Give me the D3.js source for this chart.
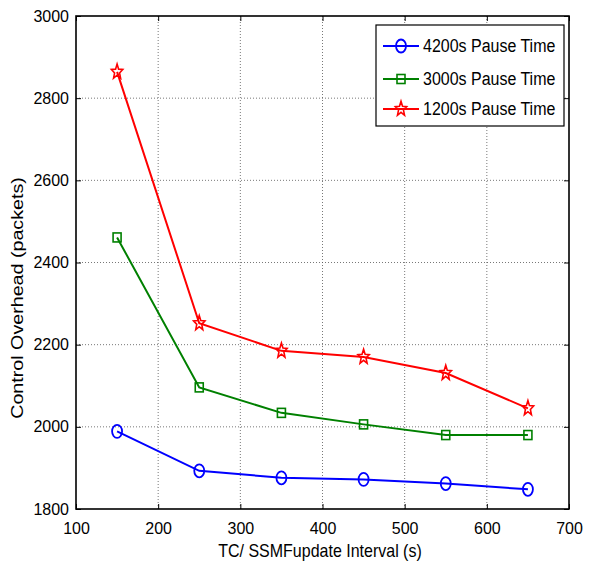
<!DOCTYPE html>
<html>
<head>
<meta charset="utf-8">
<script src="https://cdn.jsdelivr.net/npm/d3@7"></script>
<style>
  html, body { margin: 0; padding: 0; background: #fff; }
  svg text { font-family: "Liberation Sans", Arial, sans-serif; fill: #000; }
</style>
</head>
<body>
<svg id="chart" width="592" height="571"></svg>
<script>
// Control overhead vs. TC/SSMF update interval, for three pause times
const intervals = [150, 250, 350, 450, 550, 650];
const pause4200 = [1989, 1893, 1876, 1872, 1862, 1848];
const pause3000 = [2461, 2096, 2034, 2006, 1980, 1980];
const pause1200 = [2864, 2252, 2185, 2170, 2131, 2045];
const xTicks = [100, 200, 300, 400, 500, 600, 700];
const yTicks = [1800, 2000, 2200, 2400, 2600, 2800, 3000];
const seriesNames = ["4200s Pause Time", "3000s Pause Time", "1200s Pause Time"];
const seriesColors = ["#0000ff", "#008000", "#ff0000"];
const seriesMarkers = ["circle", "square", "star"];

const series = [pause4200, pause3000, pause1200].map((vals, i) => ({
  name: seriesNames[i], color: seriesColors[i], marker: seriesMarkers[i],
  points: vals.map((v, j) => ({ x: intervals[j], y: v }))
}));

const svg = d3.select("#chart");
const plotL = 76, plotR = 569, plotT = 16, plotB = 509;

const x = d3.scaleLinear().domain([100, 700]).range([plotL, plotR]);
const y = d3.scaleLinear().domain([1800, 3000]).range([plotB, plotT]);

// grid
const grid = svg.append("g");
grid.selectAll(".gx").data(xTicks.slice(1, -1)).join("line")
  .attr("x1", d => x(d)).attr("x2", d => x(d))
  .attr("y1", plotT).attr("y2", plotB)
  .attr("stroke", "#555").attr("stroke-width", 0.8).attr("stroke-dasharray", "1,2");
grid.selectAll(".gy").data(yTicks.slice(1, -1)).join("line")
  .attr("x1", plotL).attr("x2", plotR)
  .attr("y1", d => y(d)).attr("y2", d => y(d))
  .attr("stroke", "#555").attr("stroke-width", 0.8).attr("stroke-dasharray", "1,2");

// axes (ticks pointing inward, mirrored on top and right)
const axisFont = g => g.selectAll("text").style("font-family", "Liberation Sans, Arial, sans-serif").style("font-size", "16px").attr("fill", "#000");
svg.append("g").attr("transform", `translate(0,${plotB})`)
  .call(d3.axisBottom(x).tickValues(xTicks).tickSize(-5).tickPadding(14).tickFormat(d3.format("d")))
  .call(g => g.select(".domain").remove())
  .call(g => g.selectAll("line").attr("stroke", "#000"))
  .call(axisFont);
svg.append("g").attr("transform", `translate(${plotL},0)`)
  .call(d3.axisLeft(y).tickValues(yTicks).tickSize(-5).tickPadding(7).tickFormat(d3.format("d")))
  .call(g => g.select(".domain").remove())
  .call(g => g.selectAll("line").attr("stroke", "#000"))
  .call(axisFont);
svg.append("g").attr("transform", `translate(0,${plotT})`)
  .call(d3.axisTop(x).tickValues(xTicks).tickSize(-5).tickFormat(""))
  .call(g => g.select(".domain").remove())
  .call(g => g.selectAll("line").attr("stroke", "#000"));
svg.append("g").attr("transform", `translate(${plotR},0)`)
  .call(d3.axisRight(y).tickValues(yTicks).tickSize(-5).tickFormat(""))
  .call(g => g.select(".domain").remove())
  .call(g => g.selectAll("line").attr("stroke", "#000"));

svg.append("rect").attr("x", plotL).attr("y", plotT)
  .attr("width", plotR - plotL).attr("height", plotB - plotT)
  .attr("fill", "none").attr("stroke", "#000").attr("stroke-width", 1.6);

// axis titles (slightly tall lettering)
svg.append("text").attr("transform", `translate(320,557) scale(1,1.15)`)
  .attr("text-anchor", "middle").style("font-size", "16px")
  .text("TC/ SSMFupdate Interval (s)");
svg.append("text").attr("transform", `translate(23,298) rotate(-90) scale(1.23,1)`)
  .attr("text-anchor", "middle").style("font-size", "16px")
  .text("Control Overhead (packets)");

// markers
const starPath = (() => {
  const pts = [];
  for (let i = 0; i < 10; i++) {
    const r = i % 2 === 0 ? 6 : 2.6;
    const a = -Math.PI / 2 + i * Math.PI / 5;
    pts.push([r * Math.cos(a), r * Math.sin(a) * 1.3]);
  }
  return "M" + pts.map(p => p.join(",")).join("L") + "Z";
})();

function drawMarker(g, kind, color) {
  if (kind === "circle") {
    g.append("ellipse").attr("rx", 5).attr("ry", 6.5)
      .attr("fill", "none").attr("stroke", color).attr("stroke-width", 1.8);
  } else if (kind === "square") {
    g.append("rect").attr("x", -4).attr("y", -4.5).attr("width", 8).attr("height", 9)
      .attr("fill", "none").attr("stroke", color).attr("stroke-width", 1.6);
  } else {
    g.append("path").attr("d", starPath)
      .attr("fill", "none").attr("stroke", color).attr("stroke-width", 1.6);
  }
}

const line = d3.line().x(d => x(d.x)).y(d => y(d.y));
series.forEach(s => {
  svg.append("path").datum(s.points).attr("d", line)
    .attr("fill", "none").attr("stroke", s.color).attr("stroke-width", 2);
  s.points.forEach(p => {
    const g = svg.append("g").attr("transform", `translate(${x(p.x)},${y(p.y)})`);
    drawMarker(g, s.marker, s.color);
  });
});

// legend
const legend = svg.append("g");
legend.append("rect").attr("x", 376).attr("y", 25).attr("width", 188).attr("height", 101)
  .attr("fill", "#fff").attr("stroke", "#000").attr("stroke-width", 1.2);
const legendY = [46, 79, 109];
series.forEach((s, i) => {
  const ly = legendY[i];
  legend.append("line").attr("x1", 383).attr("x2", 419).attr("y1", ly).attr("y2", ly)
    .attr("stroke", s.color).attr("stroke-width", 2);
  const g = legend.append("g").attr("transform", `translate(401,${ly})`);
  drawMarker(g, s.marker, s.color);
  legend.append("text").attr("transform", `translate(423,${ly + 6}) scale(1,1.1)`)
    .style("font-size", "16px").text(s.name);
});
</script>
</body>
</html>
